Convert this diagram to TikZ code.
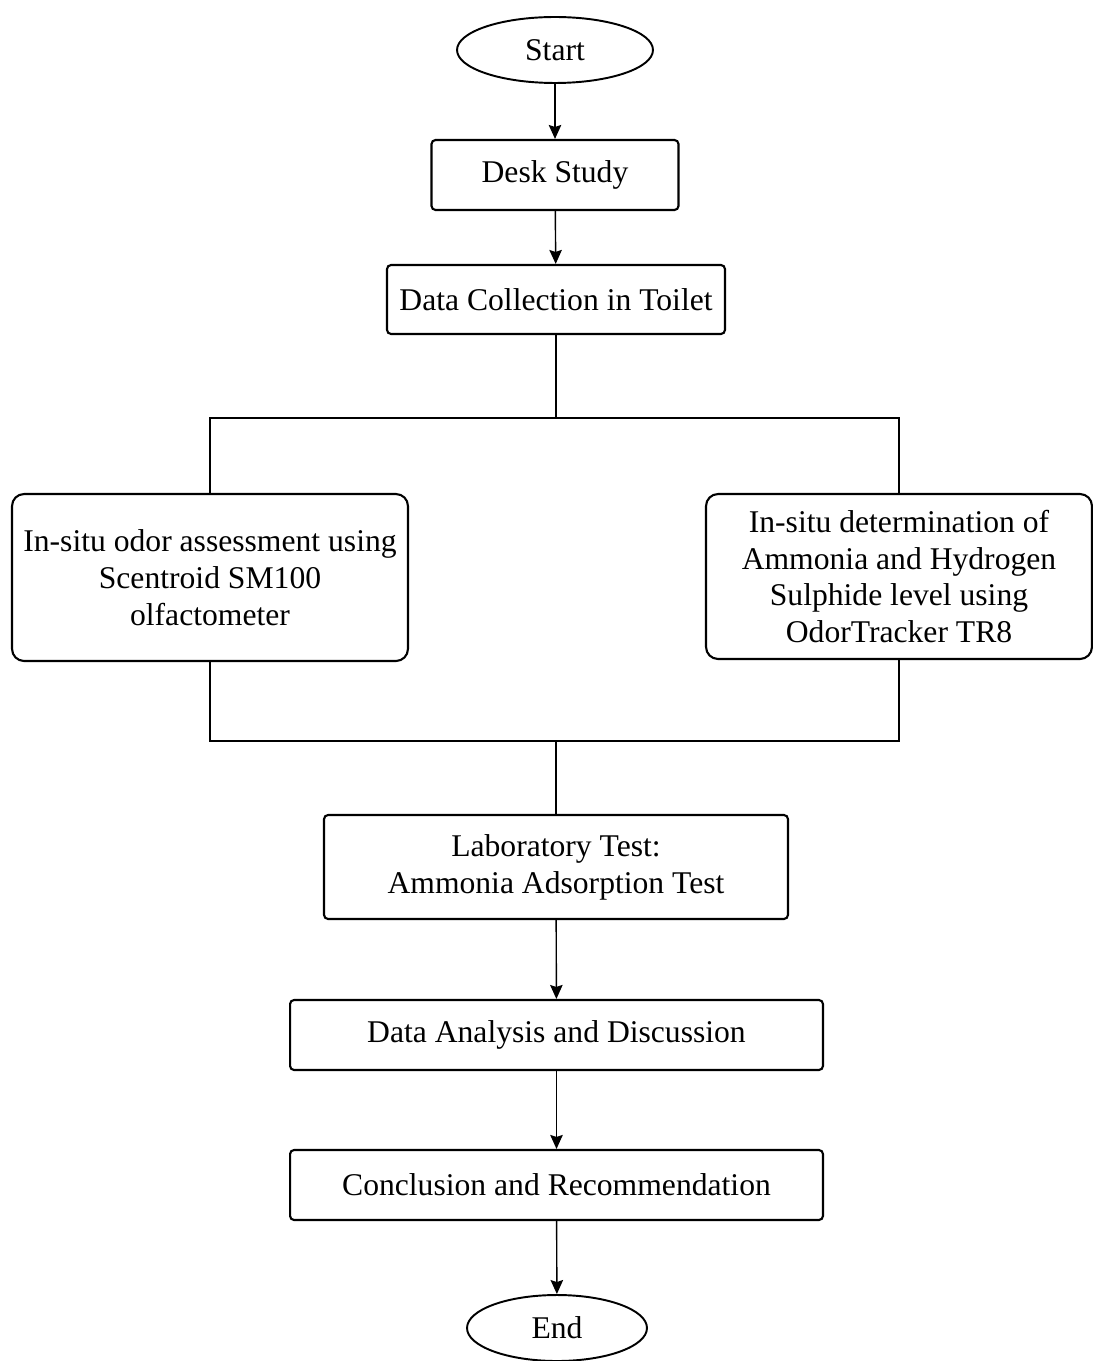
\documentclass[tikz,border=0pt]{standalone}
\usepackage{fontspec}
\setmainfont{Liberation Serif}
\usetikzlibrary{arrows.meta, shapes.geometric}

\begin{document}
\begin{tikzpicture}[x=0.02cm,y=-0.02cm]
\tikzset{stepbox/.style={draw,line width=1.2pt,rounded corners=0.08cm,inner sep=0pt,
           align=center,font=\fontsize{18}{21}\selectfont},
         sidebox/.style={stepbox,rounded corners=0.24cm},
         terminal/.style={draw,ellipse,line width=1.1pt,inner sep=0pt,
           font=\fontsize{18}{21}\selectfont},
         flow/.style={line width=0.8pt,-{Stealth[length=0.28cm,width=0.25cm,inset=0.04cm]}},
         link/.style={line width=0.9pt}}
\useasboundingbox (0,0) rectangle (1092,1361);
% Terminals and steps
\node[terminal,minimum width=3.92cm,minimum height=1.32cm] (start) at (555,50) {Start};
\node[stepbox,minimum width=4.94cm,minimum height=1.4cm] (desk) at (555,175) {Desk Study};
\node[stepbox,minimum width=6.76cm,minimum height=1.38cm] (collect) at (556,299.5) {Data Collection in Toilet};
\node[sidebox,minimum width=7.92cm,minimum height=3.34cm] (odor) at (210,577.5)
  {In-situ odor assessment using\\Scentroid SM100\\olfactometer};
\node[sidebox,minimum width=7.72cm,minimum height=3.3cm] (gas) at (899,576.5)
  {In-situ determination of\\Ammonia and Hydrogen\\Sulphide level using\\OdorTracker TR8};
\node[stepbox,minimum width=9.28cm,minimum height=2.08cm] (lab) at (556,867)
  {Laboratory Test:\\Ammonia Adsorption Test};
\node[stepbox,minimum width=10.66cm,minimum height=1.4cm] (analysis) at (556.5,1035)
  {Data Analysis and Discussion};
\node[stepbox,minimum width=10.66cm,minimum height=1.4cm] (concl) at (556.5,1185)
  {Conclusion and Recommendation};
\node[terminal,minimum width=3.6cm,minimum height=1.32cm] (end) at (557,1328) {End};
% Split and join points
\coordinate (split) at (556,418);
\coordinate (join) at (556,741);
% Connectors
\draw[flow] (start) -- (desk);
\draw[flow] (desk) -- (collect);
\draw[link] (collect) -- (split);
\draw[link] (odor.north) |- (split) -| (gas.north);
\draw[link] (odor.south) |- (join) -| (gas.south);
\draw[link] (join) -- (lab);
\draw[flow] (lab) -- (analysis);
\draw[flow] (analysis) -- (concl);
\draw[flow] (concl) -- (end);
\end{tikzpicture}
\end{document}
